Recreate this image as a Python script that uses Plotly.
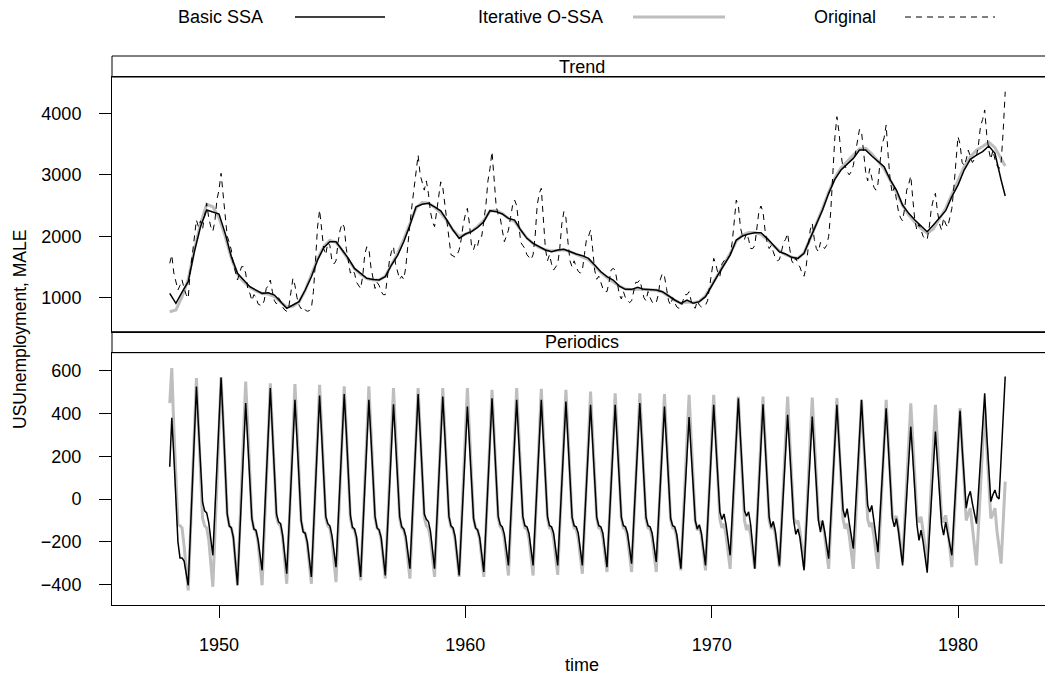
import plotly.graph_objects as go

years = list(range(1948, 1982))

# ---- Trend panel: quarterly readings (Jan, Apr, Jul, Oct) + final Dec 1981 ----
trend_basic_q = [
    [1072, 909, 1090, 1260], [1750, 2156, 2427, 2400], [2362, 2047, 1667, 1396],
    [1288, 1179, 1125, 1071], [1082, 1044, 936, 828], [882, 936, 1125, 1342],
    [1613, 1814, 1911, 1911], [1776, 1640, 1477, 1396], [1315, 1298, 1288, 1342],
    [1532, 1690, 1911, 2180], [2478, 2520, 2536, 2478], [2413, 2264, 2101, 1966],
    [2036, 2074, 2145, 2237], [2416, 2400, 2362, 2291], [2264, 2101, 1966, 1884],
    [1830, 1776, 1748, 1776], [1787, 1748, 1711, 1684], [1640, 1532, 1423, 1342],
    [1288, 1190, 1136, 1136], [1168, 1136, 1125, 1125], [1098, 1028, 963, 909],
    [963, 909, 936, 1017], [1206, 1369, 1532, 1694], [1938, 2004, 2036, 2058],
    [2058, 1966, 1857, 1748], [1711, 1657, 1640, 1722], [1966, 2183, 2427, 2698],
    [2926, 3077, 3175, 3267], [3403, 3403, 3305, 3213], [3131, 2915, 2752, 2508],
    [2373, 2264, 2166, 2074], [2183, 2291, 2416, 2644], [2833, 3077, 3251, 3321],
    [3376, 3468, 3349, 2915],
]
trend_basic_end = 2654

trend_iter_q = [
    [772, 800, 1017, 1300], [1780, 2200, 2520, 2480], [2300, 2000, 1640, 1380],
    [1260, 1170, 1110, 1070], [1060, 1020, 930, 850], [860, 930, 1120, 1360],
    [1630, 1830, 1930, 1900], [1770, 1620, 1470, 1380], [1310, 1290, 1290, 1350],
    [1540, 1720, 1950, 2220], [2460, 2550, 2540, 2470], [2380, 2250, 2100, 2000],
    [2030, 2080, 2160, 2260], [2410, 2420, 2370, 2290], [2240, 2100, 1970, 1880],
    [1820, 1780, 1760, 1770], [1780, 1750, 1710, 1670], [1620, 1520, 1410, 1330],
    [1260, 1190, 1140, 1130], [1140, 1140, 1130, 1120], [1090, 1030, 960, 910],
    [930, 920, 940, 1030], [1200, 1370, 1550, 1720], [1920, 2020, 2060, 2060],
    [2030, 1950, 1850, 1760], [1700, 1660, 1640, 1730], [1960, 2200, 2450, 2720],
    [2950, 3110, 3220, 3320], [3420, 3430, 3340, 3220], [3100, 2910, 2720, 2500],
    [2350, 2230, 2130, 2050], [2120, 2290, 2450, 2680], [2900, 3130, 3290, 3400],
    [3460, 3530, 3440, 3260],
]
trend_iter_end = 3143

# ---- Original series, monthly (Jan..Dec) ----
original_m = [
    [1560, 1695, 1400, 1250, 1125, 1200, 1290, 1150, 1050, 990, 1450, 1700],
    [1950, 2264, 2150, 2250, 2120, 2350, 2536, 2300, 2155, 2080, 2250, 2600],
    [2750, 3024, 2700, 2318, 2000, 1900, 1776, 1550, 1400, 1288, 1400, 1505],
    [1505, 1400, 1150, 1076, 950, 1050, 1017, 900, 880, 870, 950, 1150],
    [1200, 1288, 1100, 950, 900, 1000, 950, 850, 800, 780, 850, 1100],
    [1315, 1200, 1000, 880, 820, 850, 800, 780, 790, 830, 1100, 1600],
    [2150, 2427, 2100, 1800, 1700, 1900, 1850, 1600, 1550, 1600, 1900, 2100],
    [2210, 2150, 1800, 1600, 1400, 1450, 1400, 1250, 1200, 1150, 1350, 1700],
    [1830, 1800, 1500, 1300, 1150, 1250, 1200, 1100, 1050, 1050, 1300, 1600],
    [1750, 1830, 1550, 1400, 1300, 1350, 1300, 1500, 1900, 2200, 2500, 2800],
    [3100, 3320, 3000, 2850, 2750, 2900, 2700, 2400, 2237, 2156, 2400, 2700],
    [2885, 2800, 2500, 2200, 1950, 1700, 1680, 1660, 1700, 1780, 1950, 2200],
    [2350, 2454, 2200, 1850, 1780, 1900, 1850, 2000, 2000, 2250, 2500, 2900],
    [3100, 3375, 2900, 2500, 2350, 2300, 2100, 1911, 2000, 2100, 2300, 2500],
    [2590, 2500, 2200, 1900, 1850, 1800, 1700, 1650, 1620, 1700, 2000, 2500],
    [2700, 2780, 2300, 1800, 1600, 1700, 1550, 1450, 1500, 1550, 1800, 2200],
    [2400, 2300, 1900, 1600, 1500, 1600, 1500, 1430, 1400, 1450, 1700, 1950],
    [2000, 2101, 1800, 1450, 1300, 1350, 1250, 1150, 1100, 1100, 1250, 1450],
    [1477, 1450, 1250, 1050, 980, 1100, 1000, 950, 920, 950, 1100, 1250],
    [1250, 1288, 1150, 1000, 950, 1100, 1000, 930, 900, 920, 1050, 1300],
    [1396, 1350, 1150, 950, 880, 1000, 920, 850, 830, 830, 950, 1050],
    [1050, 1098, 950, 850, 830, 950, 880, 850, 860, 880, 950, 1200],
    [1450, 1640, 1550, 1400, 1350, 1550, 1600, 1650, 1650, 1700, 1900, 2300],
    [2590, 2500, 2150, 2000, 1950, 2050, 1950, 1800, 1800, 1850, 2100, 2400],
    [2492, 2400, 2100, 1900, 1800, 1850, 1750, 1650, 1600, 1620, 1750, 1900],
    [1950, 2047, 1800, 1600, 1550, 1650, 1550, 1500, 1400, 1350, 1500, 1800],
    [2100, 2210, 1950, 1800, 1750, 1900, 1850, 1800, 1850, 2000, 2400, 3100],
    [3600, 3945, 3700, 3350, 3100, 3150, 3050, 3000, 3050, 3150, 3350, 3550],
    [3740, 3700, 3350, 3050, 2900, 3100, 2950, 2800, 2750, 2850, 3200, 3500],
    [3600, 3810, 3300, 2900, 2700, 2800, 2600, 2400, 2300, 2250, 2450, 2750],
    [2850, 2980, 2600, 2250, 2100, 2200, 2100, 2000, 1950, 1950, 2150, 2450],
    [2600, 2698, 2400, 2200, 2100, 2300, 2200, 2150, 2300, 2450, 2800, 3200],
    [3620, 3500, 3200, 3150, 3250, 3400, 3300, 3200, 3250, 3300, 3500, 3800],
    [3900, 4055, 3650, 3400, 3250, 3400, 3250, 3150, 3100, 3200, 3700, 4352],
]

# ---- Periodics panel, monthly (Jan..Dec) ----
periodic_basic_m = [
    [151, 380, 200, -30, -200, -275, -275, -290, -350, -403, -171, 62],
    [294, 526, 340, 160, -15, -55, -65, -110, -185, -263, -55, 153],
    [360, 568, 370, 170, -70, -125, -135, -180, -290, -403, -190, 23],
    [235, 448, 270, 90, -90, -140, -146, -190, -260, -333, -120, 93],
    [305, 518, 320, 120, -70, -107, -115, -170, -260, -349, -146, 57],
    [260, 463, 280, 90, -100, -154, -160, -200, -280, -364, -152, 60],
    [271, 483, 300, 110, -80, -115, -125, -170, -240, -318, -116, 86],
    [288, 490, 315, 140, -75, -132, -140, -178, -276, -364, -157, 50],
    [256, 463, 290, 110, -80, -135, -145, -180, -270, -357, -157, 43],
    [243, 443, 270, 100, -80, -130, -140, -175, -250, -325, -121, 83],
    [286, 490, 310, 130, -70, -95, -105, -150, -240, -325, -124, 77],
    [278, 479, 300, 120, -80, -125, -135, -175, -265, -357, -160, 38],
    [235, 432, 260, 90, -90, -135, -145, -180, -260, -341, -138, 65],
    [268, 471, 290, 110, -80, -120, -130, -165, -240, -310, -117, 77],
    [270, 463, 280, 100, -80, -125, -130, -160, -235, -310, -117, 77],
    [270, 463, 280, 100, -80, -125, -130, -160, -235, -310, -119, 73],
    [264, 455, 275, 95, -85, -125, -130, -160, -235, -310, -122, 65],
    [253, 440, 265, 90, -85, -125, -130, -160, -240, -318, -128, 61],
    [250, 440, 265, 90, -85, -125, -130, -160, -230, -302, -114, 73],
    [261, 448, 270, 90, -85, -125, -130, -160, -225, -294, -112, 69],
    [251, 432, 260, 85, -90, -125, -130, -165, -245, -325, -148, 29],
    [206, 383, 220, 60, -100, -140, -120, -160, -235, -310, -122, 65],
    [253, 440, 265, 90, -60, -95, -70, -120, -190, -263, -80, 104],
    [288, 471, 290, 110, -55, -80, -60, -120, -220, -325, -133, 59],
    [251, 443, 265, 90, -85, -132, -105, -150, -230, -310, -134, 42],
    [217, 393, 230, 65, -105, -165, -140, -180, -260, -333, -153, 26],
    [206, 385, 225, 60, -100, -155, -100, -150, -215, -279, -99, 81],
    [260, 440, 270, 100, -50, -85, -45, -110, -170, -232, -58, 116],
    [289, 463, 290, 110, -30, -61, -30, -100, -175, -248, -80, 88],
    [256, 424, 255, 85, -90, -130, -91, -150, -230, -310, -148, 14],
    [176, 338, 190, 30, -120, -193, -145, -200, -275, -344, -179, -14],
    [150, 315, 170, 20, -120, -169, -108, -160, -210, -263, -94, 75],
    [243, 412, 240, 80, -43, 10, 36, -20, -70, -115, 37, 190],
    [342, 494, 300, 110, -12, 20, 42, 10, 0, 190, 380, 572],
]

periodic_iter_m = [
    [448, 612, 330, 60, -120, -125, -135, -220, -330, -427, -179, 70],
    [318, 565, 340, 130, -90, -125, -135, -190, -300, -410, -165, 79],
    [324, 568, 370, 170, -70, -125, -135, -180, -290, -403, -165, 73],
    [311, 549, 340, 130, -90, -140, -150, -200, -300, -403, -167, 69],
    [305, 541, 330, 120, -85, -115, -125, -180, -290, -396, -163, 70],
    [304, 537, 330, 120, -100, -150, -160, -210, -300, -396, -164, 69],
    [301, 534, 330, 120, -90, -125, -135, -190, -290, -388, -160, 69],
    [297, 526, 330, 130, -90, -135, -145, -190, -290, -380, -154, 73],
    [299, 526, 330, 130, -90, -135, -145, -190, -285, -372, -150, 73],
    [295, 518, 320, 120, -90, -135, -145, -190, -285, -372, -150, 73],
    [295, 518, 320, 120, -85, -125, -135, -185, -275, -364, -144, 77],
    [297, 518, 320, 120, -85, -130, -140, -190, -280, -364, -144, 77],
    [297, 518, 320, 120, -90, -135, -145, -190, -280, -364, -146, 73],
    [291, 510, 310, 110, -90, -130, -140, -185, -270, -357, -138, 81],
    [300, 518, 320, 120, -90, -135, -140, -185, -270, -357, -139, 79],
    [297, 515, 315, 115, -90, -135, -140, -185, -270, -354, -138, 78],
    [294, 510, 310, 110, -90, -135, -140, -185, -265, -349, -136, 77],
    [289, 502, 305, 105, -90, -135, -140, -180, -260, -341, -132, 77],
    [285, 494, 300, 100, -90, -135, -140, -180, -260, -341, -132, 77],
    [285, 494, 300, 100, -95, -135, -140, -180, -260, -341, -133, 75],
    [282, 490, 295, 100, -95, -135, -140, -180, -255, -333, -128, 77],
    [282, 487, 290, 95, -100, -145, -130, -170, -250, -333, -128, 77],
    [282, 487, 290, 95, -95, -135, -115, -170, -250, -326, -125, 77],
    [278, 479, 285, 90, -100, -145, -120, -170, -250, -326, -125, 77],
    [278, 479, 285, 90, -100, -140, -120, -165, -245, -318, -119, 81],
    [280, 479, 285, 90, -90, -115, -100, -150, -230, -318, -120, 78],
    [276, 474, 285, 90, -90, -125, -105, -165, -250, -326, -127, 72],
    [271, 471, 280, 90, -95, -138, -115, -170, -250, -326, -129, 68],
    [266, 463, 280, 90, -95, -130, -110, -170, -250, -326, -129, 68],
    [266, 463, 280, 90, -80, -90, -80, -140, -220, -294, -109, 77],
    [262, 447, 270, 80, -80, -110, -83, -150, -230, -300, -115, 70],
    [255, 440, 265, 80, -80, -110, -76, -140, -230, -318, -132, 53],
    [239, 424, 250, 70, -100, -70, -43, -130, -220, -310, -125, 60],
    [245, 430, 250, 70, -91, -70, -43, -150, -230, -302, -110, 81],
]

trend_ticks = [1000, 2000, 3000, 4000]
periodic_ticks = [-400, -200, 0, 200, 400, 600]
x_ticks = [1950, 1960, 1970, 1980]
legend_labels = ["Basic SSA", "Iterative O-SSA", "Original"]

# ---- build time axes ----
t_month = [y + m / 12 for y in years for m in range(12)]
t_quarter = [y + q / 4 for y in years for q in range(4)] + [1981 + 11 / 12]


def flat(rows):
    return [v for r in rows for v in r]


tb = flat(trend_basic_q) + [trend_basic_end]
ti = flat(trend_iter_q) + [trend_iter_end]
orig = flat(original_m)
pb = flat(periodic_basic_m)
pi = flat(periodic_iter_m)

BLACK = "#000000"
GRAY = "#bebebe"
DASH = "6px,5px"
FS = 18

fig = go.Figure()
fig.add_trace(go.Scatter(x=t_quarter, y=ti, mode="lines", line=dict(color=GRAY, width=3),
                         xaxis="x2", yaxis="y2", showlegend=False, hoverinfo="skip"))
fig.add_trace(go.Scatter(x=t_quarter, y=tb, mode="lines", line=dict(color=BLACK, width=1.5),
                         xaxis="x2", yaxis="y2", showlegend=False, hoverinfo="skip"))
fig.add_trace(go.Scatter(x=t_month, y=orig, mode="lines", line=dict(color=BLACK, width=1, dash=DASH),
                         xaxis="x2", yaxis="y2", showlegend=False, hoverinfo="skip"))
fig.add_trace(go.Scatter(x=t_month, y=pi, mode="lines", line=dict(color=GRAY, width=3),
                         xaxis="x", yaxis="y", showlegend=False, hoverinfo="skip"))
fig.add_trace(go.Scatter(x=t_month, y=pb, mode="lines", line=dict(color=BLACK, width=1.5),
                         xaxis="x", yaxis="y", showlegend=False, hoverinfo="skip"))

FONT = "Liberation Sans, Arial, Helvetica, sans-serif"
XR = [1945.656, 1983.816]
H_BOT = 0.4596
STRIP1 = (0.4596, 0.4978)
TOP = (0.4978, 0.9617)
STRIP2 = (0.9617, 1.0)

tickfont = dict(family=FONT, size=FS, color="black")
frame = dict(showgrid=False, zeroline=False, showline=True, mirror=True,
             linecolor="black", linewidth=1)

# the page body has an 8px default margin; size the figure so the frame lands where it should
fig.update_layout(
    width=1045, height=675,
    margin=dict(l=104, r=1, t=48, b=78),
    paper_bgcolor="white", plot_bgcolor="white",
    font=dict(family=FONT, color="black"),
    showlegend=False,
    xaxis=dict(domain=[0, 1], range=XR, anchor="y", tickvals=x_ticks, ticks="outside",
               ticklen=12, tickcolor="black", tickfont=tickfont, ticklabelstandoff=11, **frame),
    yaxis=dict(domain=[0, H_BOT], range=[-495, 683.6], anchor="x", tickvals=periodic_ticks,
               ticks="outside", ticklen=12, tickcolor="black", tickfont=tickfont,
               ticklabelstandoff=14, **frame),
    xaxis2=dict(domain=[0, 1], range=XR, anchor="y2", showticklabels=False, ticks="", **frame),
    yaxis2=dict(domain=list(TOP), range=[447, 4590.5], anchor="x2", tickvals=trend_ticks,
                ticks="outside", ticklen=12, tickcolor="black", tickfont=tickfont,
                ticklabelstandoff=14, **frame),
)


def px(x):
    return (x - 112) / 940


def py(y):
    return (605 - y) / 549


shapes = []
for (y0, y1) in (STRIP1, STRIP2):
    shapes.append(dict(type="rect", xref="paper", yref="paper", x0=0, x1=1, y0=y0, y1=y1,
                       line=dict(color="black", width=1), fillcolor="white", layer="below"))

leg_y = py(17)
shapes.append(dict(type="line", xref="paper", yref="paper", x0=px(295), x1=px(385), y0=leg_y, y1=leg_y,
                   line=dict(color=BLACK, width=1.5)))
shapes.append(dict(type="line", xref="paper", yref="paper", x0=px(633), x1=px(725), y0=leg_y, y1=leg_y,
                   line=dict(color=GRAY, width=3)))
shapes.append(dict(type="line", xref="paper", yref="paper", x0=px(905), x1=px(995), y0=leg_y, y1=leg_y,
                   line=dict(color=BLACK, width=1, dash=DASH)))

txt = dict(family=FONT, size=FS, color="black")
annotations = []
for label, cx in zip(legend_labels, [220, 540, 845]):
    annotations.append(dict(text=label, xref="paper", yref="paper", x=px(cx), y=leg_y,
                            showarrow=False, xanchor="center", yanchor="middle", font=txt))
annotations.append(dict(text="Trend", xref="paper", yref="paper", x=0.5, y=(STRIP2[0] + STRIP2[1]) / 2,
                        showarrow=False, xanchor="center", yanchor="middle", font=txt))
annotations.append(dict(text="Periodics", xref="paper", yref="paper", x=0.5, y=(STRIP1[0] + STRIP1[1]) / 2,
                        showarrow=False, xanchor="center", yanchor="middle", font=txt))
annotations.append(dict(text="time", xref="paper", yref="paper", x=0.5, y=py(665),
                        showarrow=False, xanchor="center", yanchor="middle", font=txt))
annotations.append(dict(text="USUnemployment, MALE", xref="paper", yref="paper", x=px(20), y=py(330),
                        showarrow=False, xanchor="center", yanchor="middle", textangle=-90,
                        font=dict(family=FONT, size=17.5, color="black")))

fig.update_layout(shapes=shapes, annotations=annotations)
fig.write_html("out.html")
